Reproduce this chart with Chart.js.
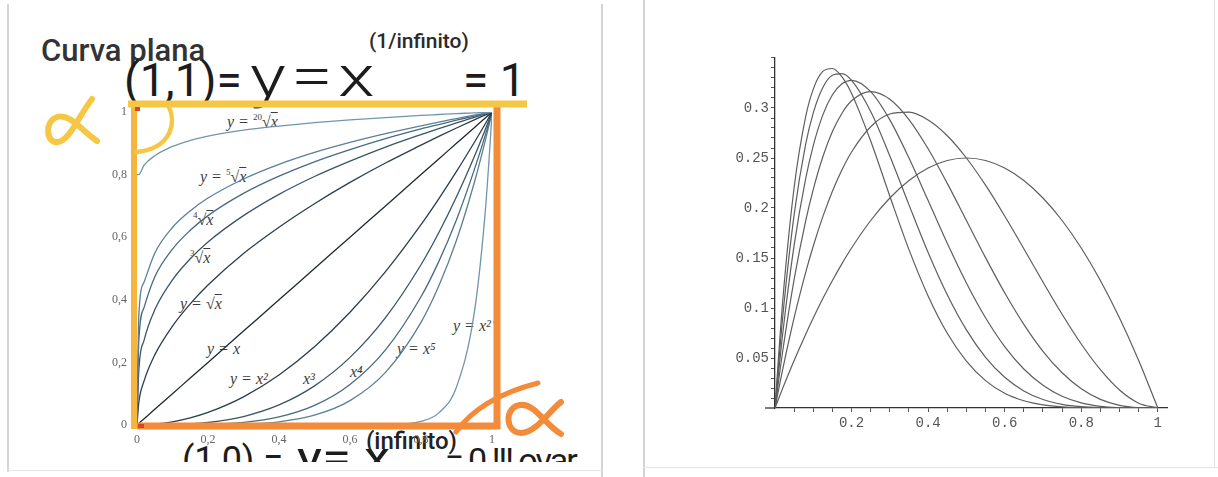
<!DOCTYPE html>
<html>
<head>
<meta charset="utf-8">
<script src="https://cdn.jsdelivr.net/npm/chart.js@4.4.0/dist/chart.umd.min.js"></script>
<style>
  html, body { margin: 0; padding: 0; background: #fff; }
  body { width: 1218px; height: 477px; position: relative; overflow: hidden; font-family: Roboto, sans-serif; }
  .edge { position: absolute; background: #d4d4d4; }
  #shot { position: absolute; left: 9px; top: 0; width: 592px; height: 462px; overflow: hidden; }
  .t { position: absolute; white-space: nowrap; line-height: 1; color: #1c1c1c; z-index: 0; }
  .lbl { position: absolute; white-space: nowrap; line-height: 1; font-family: "Liberation Serif", serif; font-style: italic; font-size: 16px; color: #3c3c3c; z-index: 0; }
  .ov { text-decoration: overline; }
  .ix { font-size: 9px; vertical-align: 7px; font-style: normal; }
  canvas { position: absolute; z-index: 1; }
  #left-chart { left: 0; top: 0; }
  #right-chart { left: 650px; top: 0; }
</style>
</head>
<body>

<div class="edge" style="left:7px;top:4px;width:2px;height:468px"></div>
<div class="edge" style="left:601px;top:4px;width:2px;height:473px"></div>
<div class="edge" style="left:7px;top:470px;width:596px;height:1px;background:#e6e6e6"></div>
<div class="edge" style="left:643px;top:0;width:2px;height:477px"></div>
<div class="edge" style="left:643px;top:467px;width:575px;height:1px;background:#e6e6e6"></div>
<div class="edge" style="left:1214px;top:0;width:1px;height:468px;background:#e2e2e2"></div>

<div id="shot">
  <div class="t" style="left:32px;top:35px;font-size:31px;font-weight:500;color:#333">Curva plana</div>
  <div class="t" style="left:360px;top:31px;font-size:21px;font-weight:500;color:#2a2a2a">(1/infinito)</div>
  <div class="t" style="left:115px;top:57px;font-size:46px">(1,1)=</div>
  <div class="t" style="left:241px;top:47px;font-size:58px;font-weight:300;letter-spacing:4px;transform:scaleX(1.3);transform-origin:left top">y=x</div>
  <div class="t" style="left:454px;top:57px;font-size:46px">= 1</div>
  <div class="t" style="left:173px;top:442px;font-size:36px">(1,0) =</div>
  <div class="t" style="left:288px;top:436px;font-size:44px;transform:scaleX(1.2);transform-origin:left top">y= x</div>
  <div class="t" style="left:436px;top:443px;font-size:34px;letter-spacing:-2px">= 0 !!! ovar</div>
  <div class="t" style="left:357px;top:429px;font-size:24px;font-weight:500;color:#222">(infinito)</div>
</div>

<div class="lbl" style="left:227px;top:113px">y = <span class="ix">20</span>√<span class="ov">x</span></div>
<div class="lbl" style="left:200px;top:168px">y = <span class="ix">5</span>√<span class="ov">x</span></div>
<div class="lbl" style="left:193px;top:211px"><span class="ix">4</span>√<span class="ov">x</span></div>
<div class="lbl" style="left:190px;top:249px"><span class="ix">3</span>√<span class="ov">x</span></div>
<div class="lbl" style="left:180px;top:296px">y = √<span class="ov">x</span></div>
<div class="lbl" style="left:207px;top:341px">y = x</div>
<div class="lbl" style="left:230px;top:371px">y = x²</div>
<div class="lbl" style="left:303px;top:371px">x³</div>
<div class="lbl" style="left:350px;top:364px">x⁴</div>
<div class="lbl" style="left:397px;top:341px">y = x⁵</div>
<div class="lbl" style="left:453px;top:318px">y = x²⁰</div>

<canvas id="left-chart" width="600" height="470"></canvas>
<canvas id="right-chart" width="560" height="470"></canvas>

<script>
// ---- left panel: y = x^(1/n) and y = x^n ----
const powerX = [0, 0.005, 0.02, 0.05, 0.1, 0.15, 0.2, 0.3, 0.4, 0.5, 0.6, 0.7, 0.8, 0.85, 0.9, 0.95, 0.98, 0.995, 1];
const root20 = [0.80, 0.80, 0.83, 0.86, 0.89, 0.909, 0.923, 0.942, 0.955, 0.966, 0.975, 0.982, 0.989, 0.992, 0.995, 0.997, 0.999, 1, 1];
const root5 = [0, 0.347, 0.457, 0.549, 0.631, 0.684, 0.725, 0.786, 0.833, 0.871, 0.903, 0.931, 0.956, 0.968, 0.979, 0.990, 0.996, 0.999, 1];
const root4 = [0, 0.266, 0.376, 0.473, 0.562, 0.622, 0.669, 0.740, 0.795, 0.841, 0.880, 0.915, 0.946, 0.960, 0.974, 0.987, 0.995, 0.999, 1];
const root3 = [0, 0.171, 0.271, 0.368, 0.464, 0.531, 0.585, 0.669, 0.737, 0.794, 0.843, 0.888, 0.928, 0.947, 0.965, 0.983, 0.993, 0.998, 1];
const root2 = [0, 0.071, 0.141, 0.224, 0.316, 0.387, 0.447, 0.548, 0.632, 0.707, 0.775, 0.837, 0.894, 0.922, 0.949, 0.975, 0.990, 0.997, 1];
const linear = [0, 0.005, 0.02, 0.05, 0.1, 0.15, 0.2, 0.3, 0.4, 0.5, 0.6, 0.7, 0.8, 0.85, 0.9, 0.95, 0.98, 0.995, 1];
const pow2 = [0, 0, 0.0004, 0.0025, 0.01, 0.0225, 0.04, 0.09, 0.16, 0.25, 0.36, 0.49, 0.64, 0.7225, 0.81, 0.9025, 0.960, 0.990, 1];
const pow3 = [0, 0, 0, 0.0001, 0.001, 0.0034, 0.008, 0.027, 0.064, 0.125, 0.216, 0.343, 0.512, 0.614, 0.729, 0.857, 0.941, 0.985, 1];
const pow4 = [0, 0, 0, 0, 0.0001, 0.0005, 0.0016, 0.0081, 0.0256, 0.0625, 0.1296, 0.2401, 0.4096, 0.522, 0.656, 0.815, 0.922, 0.980, 1];
const pow5 = [0, 0, 0, 0, 0, 0.0001, 0.0003, 0.0024, 0.0102, 0.0313, 0.0778, 0.168, 0.328, 0.444, 0.590, 0.774, 0.904, 0.975, 1];
const pow20 = [0, 0, 0, 0, 0, 0, 0, 0, 0, 0, 0, 0.0008, 0.0115, 0.0388, 0.1216, 0.358, 0.668, 0.905, 1];
const leftTickLabels = ['0', '0,2', '0,4', '0,6', '0,8', '1'];

// ---- right panel: n·x·(1-x)^n for n = 1..6 ----
const bumpX = [0, 0.02, 0.05, 0.08, 0.1, 0.125, 0.15, 0.175, 0.2, 0.25, 0.3, 0.35, 0.4, 0.45, 0.5, 0.55, 0.6, 0.65, 0.7, 0.75, 0.8, 0.85, 0.9, 0.95, 1];
const bump1 = [0, 0.0196, 0.0475, 0.0736, 0.09, 0.1094, 0.1275, 0.1444, 0.16, 0.1875, 0.21, 0.2275, 0.24, 0.2475, 0.25, 0.2475, 0.24, 0.2275, 0.21, 0.1875, 0.16, 0.1275, 0.09, 0.0475, 0];
const bump2 = [0, 0.0384, 0.0903, 0.1354, 0.162, 0.1914, 0.2168, 0.2382, 0.256, 0.2813, 0.294, 0.2958, 0.288, 0.2723, 0.25, 0.2228, 0.192, 0.1593, 0.126, 0.0938, 0.064, 0.0383, 0.018, 0.0048, 0];
const bump3 = [0, 0.0565, 0.1286, 0.1869, 0.2187, 0.2512, 0.2764, 0.2948, 0.3072, 0.3164, 0.3087, 0.2884, 0.2592, 0.2246, 0.1875, 0.1504, 0.1152, 0.0836, 0.0567, 0.0352, 0.0192, 0.0086, 0.0027, 0.0004, 0];
const bump4 = [0, 0.0738, 0.1629, 0.2292, 0.2624, 0.2931, 0.3132, 0.3243, 0.3277, 0.3164, 0.2881, 0.2499, 0.2074, 0.1647, 0.125, 0.0902, 0.0614, 0.039, 0.0227, 0.0117, 0.0051, 0.0017, 0.0004, 0, 0];
const bump5 = [0, 0.0904, 0.1934, 0.2636, 0.2952, 0.3206, 0.3328, 0.3344, 0.3277, 0.2966, 0.2521, 0.2031, 0.1555, 0.1132, 0.0781, 0.0507, 0.0307, 0.0171, 0.0085, 0.0037, 0.0013, 0.0003, 0, 0, 0];
const bump6 = [0, 0.1063, 0.2205, 0.2911, 0.3189, 0.3366, 0.3395, 0.3311, 0.3146, 0.267, 0.2118, 0.1584, 0.112, 0.0747, 0.0469, 0.0274, 0.0147, 0.0072, 0.0031, 0.0011, 0.0003, 0.0001, 0, 0, 0];
const bumpXLabels = [0.2, 0.4, 0.6, 0.8, 1];
const bumpYLabels = [0.05, 0.1, 0.15, 0.2, 0.25, 0.3];

const toPoints = (xs, ys) => xs.map((x, i) => ({ x: x, y: ys[i] }));

// curve colours go from blue-grey on the outside to near black on the diagonal
const leftSeries = [
  { name: 'y = 20√x', ys: root20, color: '#7096ab' },
  { name: 'y = 5√x', ys: root5, color: '#5a7f97' },
  { name: 'y = 4√x', ys: root4, color: '#486a80' },
  { name: 'y = 3√x', ys: root3, color: '#3a5566' },
  { name: 'y = √x', ys: root2, color: '#2a3e4a' },
  { name: 'y = x', ys: linear, color: '#1e2a31' },
  { name: 'y = x²', ys: pow2, color: '#2a3e4a' },
  { name: 'y = x³', ys: pow3, color: '#3a5566' },
  { name: 'y = x⁴', ys: pow4, color: '#486a80' },
  { name: 'y = x⁵', ys: pow5, color: '#5a7f97' },
  { name: 'y = x²⁰', ys: pow20, color: '#7096ab' }
];

// highlighter strokes drawn over the left plot
const markerStrokes = {
  id: 'markerStrokes',
  afterDraw(chart) {
    const ctx = chart.ctx;
    ctx.save();
    const seg = (color, w, x1, y1, x2, y2) => {
      ctx.strokeStyle = color; ctx.lineWidth = w;
      ctx.beginPath(); ctx.moveTo(x1, y1); ctx.lineTo(x2, y2); ctx.stroke();
    };
    ctx.lineCap = 'butt';
    seg('#f28b3a', 7, 137, 426, 500, 426);
    seg('#f28b3a', 7, 497, 103, 497, 429);
    seg('#f5b53e', 6, 134, 104, 134, 429);
    seg('#f6c744', 7, 128, 104, 527, 104);
    ctx.fillStyle = '#d9452b';
    ctx.fillRect(135, 107, 5, 4);
    ctx.fillRect(138, 424, 6, 4);
    ctx.lineCap = 'round';
    ctx.lineJoin = 'round';
    // yellow arc at the top-left corner
    ctx.strokeStyle = '#f6c744'; ctx.lineWidth = 4.5;
    ctx.beginPath(); ctx.moveTo(168, 105); ctx.bezierCurveTo(177, 122, 172, 148, 137, 152); ctx.stroke();
    // yellow handwritten alpha
    ctx.lineWidth = 6;
    ctx.beginPath();
    ctx.moveTo(92, 99);
    ctx.bezierCurveTo(80, 114, 70, 140, 58, 142);
    ctx.bezierCurveTo(46, 144, 44, 121, 57, 117);
    ctx.bezierCurveTo(70, 113, 82, 131, 97, 141);
    ctx.stroke();
    // orange arc at the bottom-right corner
    ctx.strokeStyle = '#f28b3a'; ctx.lineWidth = 5;
    ctx.beginPath(); ctx.moveTo(456, 432); ctx.quadraticCurveTo(480, 398, 538, 383); ctx.stroke();
    // orange handwritten alpha
    ctx.lineWidth = 6;
    ctx.beginPath();
    ctx.moveTo(561, 402);
    ctx.bezierCurveTo(549, 411, 536, 433, 521, 433);
    ctx.bezierCurveTo(505, 433, 504, 407, 520, 405);
    ctx.bezierCurveTo(535, 403, 545, 425, 561, 434);
    ctx.stroke();
    ctx.restore();
  }
};

new Chart(document.getElementById('left-chart'), {
  type: 'line',
  data: {
    datasets: leftSeries.map(s => ({
      label: s.name,
      data: toPoints(powerX, s.ys),
      borderColor: s.color,
      borderWidth: 1.3,
      pointRadius: 0,
      cubicInterpolationMode: 'monotone',
      fill: false
    }))
  },
  options: {
    responsive: false,
    animation: false,
    devicePixelRatio: 1,
    layout: { padding: { top: 112, right: 108, left: 0, bottom: 0 } },
    plugins: { legend: { display: false }, tooltip: { enabled: false } },
    scales: {
      x: {
        type: 'linear', min: 0, max: 1,
        afterFit: s => { s.height = 45; },
        grid: { display: false }, border: { display: false },
        ticks: { stepSize: 0.2, padding: 0, color: '#666', font: { family: 'Liberation Serif', size: 12 },
                 callback: (v, i) => leftTickLabels[i] }
      },
      y: {
        type: 'linear', min: 0, max: 1,
        afterFit: s => { s.width = 137; },
        grid: { display: false }, border: { display: false },
        ticks: { stepSize: 0.2, padding: 2, color: '#666', font: { family: 'Liberation Serif', size: 12 },
                 callback: (v, i) => leftTickLabels[i] }
      }
    }
  },
  plugins: [markerStrokes]
});

// Mathematica-style axis: the x axis runs a little past the origin on the left
const axisStub = {
  id: 'axisStub',
  afterDraw(chart) {
    const { ctx, chartArea } = chart;
    ctx.save();
    ctx.strokeStyle = '#333'; ctx.lineWidth = 1.3;
    ctx.beginPath();
    ctx.moveTo(chartArea.left - 10, chartArea.bottom);
    ctx.lineTo(chartArea.left, chartArea.bottom);
    ctx.stroke();
    ctx.restore();
  }
};

const rightSeries = [bump1, bump2, bump3, bump4, bump5, bump6];

new Chart(document.getElementById('right-chart'), {
  type: 'line',
  data: {
    datasets: rightSeries.map((ys, i) => ({
      label: 'n = ' + (i + 1),
      data: toPoints(bumpX, ys),
      borderColor: '#5e5e5e',
      borderWidth: 1.2,
      pointRadius: 0,
      cubicInterpolationMode: 'monotone',
      fill: false
    }))
  },
  options: {
    responsive: false,
    animation: false,
    devicePixelRatio: 1,
    layout: { padding: { top: 58, right: 43, left: 0, bottom: 0 } },
    plugins: { legend: { display: false }, tooltip: { enabled: false } },
    scales: {
      x: {
        type: 'linear', min: 0, max: 1.024,
        afterFit: s => { s.height = 62; },
        afterBuildTicks: s => {
          const t = [];
          for (let k = 1; k <= 20; k++) t.push({ value: k * 0.05 });
          s.ticks = t;
        },
        grid: { drawOnChartArea: false, tickLength: 4, color: '#555' },
        border: { color: '#333', width: 1.3 },
        ticks: { autoSkip: false, maxRotation: 0, padding: 3, color: '#555', font: { family: 'Liberation Mono', size: 14 },
                 callback: v => bumpXLabels.includes(+v.toFixed(2)) ? String(+v.toFixed(2)) : '' }
      },
      y: {
        type: 'linear', min: 0, max: 0.35,
        afterFit: s => { s.width = 125; },
        afterBuildTicks: s => {
          const t = [];
          for (let k = 1; k <= 35; k++) t.push({ value: k * 0.01 });
          s.ticks = t;
        },
        grid: { drawOnChartArea: false, tickLength: 4, color: '#555' },
        border: { color: '#333', width: 1.3 },
        ticks: { autoSkip: false, padding: 2, color: '#555', font: { family: 'Liberation Mono', size: 14 },
                 callback: v => bumpYLabels.includes(+v.toFixed(2)) ? String(+v.toFixed(2)) : '' }
      }
    }
  },
  plugins: [axisStub]
});
</script>
</body>
</html>
